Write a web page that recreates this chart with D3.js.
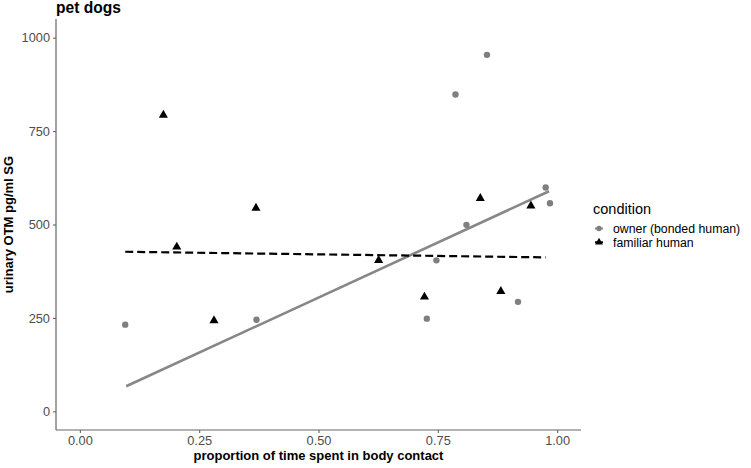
<!DOCTYPE html>
<html>
<head>
<meta charset="utf-8">
<script src="https://cdn.jsdelivr.net/npm/d3@7"></script>
<style>
  body { margin: 0; background: #fff; }
  svg { font-family: "Liberation Sans", Arial, sans-serif; }
</style>
</head>
<body>
<div id="graph"></div>
<script>
// values
const ownerX = [0.095, 0.370, 0.727, 0.747, 0.787, 0.810, 0.853, 0.918, 0.976, 0.985];
const ownerY = [232, 245, 248, 404, 848, 499, 954, 293, 599, 557];

const familiarX = [0.175, 0.203, 0.281, 0.369, 0.626, 0.722, 0.839, 0.882, 0.945];
const familiarY = [793, 440, 243, 544, 404, 306, 570, 321, 550];

// fitted lines (endpoints)
const ownerFitX = [0.097, 0.983];
const ownerFitY = [67, 589];
const familiarFitX = [0.095, 0.976];
const familiarFitY = [427, 412];

const xTicks = [0, 0.25, 0.5, 0.75, 1];
const yTicks = [0, 250, 500, 750, 1000];
const conditions = ['owner (bonded human)', 'familiar human'];

const svgWidth = 751;
const svgHeight = 468;
const panel = { left: 56, right: 581, top: 19, bottom: 430 };

const svg = d3.select('#graph')
  .append('svg')
  .attr('width', svgWidth)
  .attr('height', svgHeight);

const x = d3.scaleLinear().domain([-0.05, 1.05]).range([panel.left, panel.right]);
const y = d3.scaleLinear().domain([-50, 1050]).range([panel.bottom, panel.top]);

const axisCol = '#666';
const textCol = '#4d4d4d';

// axes
const xAxis = svg.append('g')
  .attr('transform', `translate(0, ${panel.bottom})`)
  .call(d3.axisBottom(x).tickValues(xTicks).tickFormat(d3.format('.2f')).tickSize(3).tickPadding(3));
const yAxis = svg.append('g')
  .attr('transform', `translate(${panel.left}, 0)`)
  .call(d3.axisLeft(y).tickValues(yTicks).tickFormat(d3.format('d')).tickSize(3).tickPadding(3));

[xAxis, yAxis].forEach(a => {
  a.select('.domain').remove();
  a.selectAll('.tick line').attr('stroke', axisCol).attr('stroke-width', 1.1);
  a.selectAll('.tick text')
    .attr('fill', textCol)
    .style('font-size', '12.8px')
    .style('font-family', '"Liberation Sans", Arial, sans-serif');
});

svg.append('line')
  .attr('x1', panel.left).attr('x2', panel.left)
  .attr('y1', panel.top).attr('y2', panel.bottom)
  .attr('stroke', axisCol).attr('stroke-width', 1.2);
svg.append('line')
  .attr('x1', panel.left).attr('x2', panel.right)
  .attr('y1', panel.bottom).attr('y2', panel.bottom)
  .attr('stroke', axisCol).attr('stroke-width', 1.2);

// titles
svg.append('text')
  .attr('x', panel.left).attr('y', 13)
  .attr('font-weight', 'bold').attr('font-size', '15.6px')
  .text('pet dogs');

svg.append('text')
  .attr('x', (panel.left + panel.right) / 2).attr('y', 460)
  .attr('text-anchor', 'middle')
  .attr('font-weight', 'bold').attr('font-size', '13px')
  .text('proportion of time spent in body contact');

svg.append('text')
  .attr('transform', `translate(13, ${(panel.top + panel.bottom) / 2}) rotate(-90)`)
  .attr('text-anchor', 'middle')
  .attr('font-weight', 'bold').attr('font-size', '13px')
  .text('urinary OTM pg/ml SG');

// fitted lines
const line = d3.line().x(d => x(d[0])).y(d => y(d[1]));

svg.append('path')
  .attr('d', line(d3.zip(ownerFitX, ownerFitY)))
  .attr('stroke', '#878787').attr('stroke-width', 2.6).attr('fill', 'none');

svg.append('path')
  .attr('d', line(d3.zip(familiarFitX, familiarFitY)))
  .attr('stroke', '#000').attr('stroke-width', 2.2)
  .attr('stroke-dasharray', '8,4').attr('fill', 'none');

// points
svg.append('g').selectAll('circle')
  .data(d3.zip(ownerX, ownerY))
  .join('circle')
  .attr('cx', d => x(d[0]))
  .attr('cy', d => y(d[1]))
  .attr('r', 3.2)
  .attr('fill', '#7f7f7f');

const tri = d3.symbol().type(d3.symbolTriangle).size(36);
svg.append('g').selectAll('path')
  .data(d3.zip(familiarX, familiarY))
  .join('path')
  .attr('d', tri)
  .attr('transform', d => `translate(${x(d[0])}, ${y(d[1])})`)
  .attr('fill', '#000');

// legend
const legend = svg.append('g');
legend.append('text')
  .attr('x', 593).attr('y', 214)
  .attr('font-size', '14.5px')
  .text('condition');

const items = legend.selectAll('g.item')
  .data(conditions)
  .join('g')
  .attr('class', 'item')
  .attr('transform', (d, i) => `translate(599, ${228.5 + i * 13.8})`);

items.append('line')
  .attr('x1', -4).attr('x2', 4)
  .attr('stroke', (d, i) => i === 0 ? '#878787' : '#000')
  .attr('stroke-width', 2);

items.append('path')
  .attr('d', (d, i) => i === 0
    ? d3.symbol().type(d3.symbolCircle).size(22)()
    : d3.symbol().type(d3.symbolTriangle).size(26)())
  .attr('fill', (d, i) => i === 0 ? '#7f7f7f' : '#000');

items.append('text')
  .attr('x', 14).attr('dy', '0.35em')
  .attr('font-size', '12.3px')
  .text(d => d);
</script>
</body>
</html>
